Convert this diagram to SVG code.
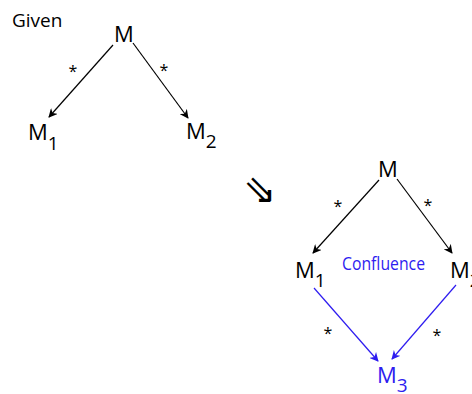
<svg xmlns="http://www.w3.org/2000/svg" width="472" height="394" viewBox="0 0 472 394">
<style>
text{font-family:"Open Sans","Liberation Sans",sans-serif;}
.n{font-size:22px;fill:#000;}
.s{font-size:19px;}
.st{font-size:16px;fill:#000;}
.b{fill:#2e1cf0;}
.e{stroke:#000;stroke-width:1.2;fill:none;marker-end:url(#ak);}
.eb{stroke:#2e1cf0;stroke-width:1.2;fill:none;marker-end:url(#ab);}
</style>
<defs>
<marker id="ak" viewBox="0 0 10 10" refX="9" refY="5" markerWidth="9" markerHeight="9" markerUnits="userSpaceOnUse" orient="auto"><path d="M0,0 L10,5 L0,10 L3,5 Z" fill="#000"/></marker>
<marker id="ab" viewBox="0 0 10 10" refX="9" refY="5" markerWidth="9" markerHeight="9" markerUnits="userSpaceOnUse" orient="auto"><path d="M0,0 L10,5 L0,10 L3,5 Z" fill="#2e1cf0"/></marker>
</defs>
<text x="12" y="27" style="font-size:19px">Given</text>
<g id="connectors">
<line class="e" x1="113" y1="45" x2="49" y2="117"/>
<line class="e" x1="133" y1="43" x2="188" y2="118"/>
<line class="e" x1="379" y1="180" x2="313" y2="253"/>
<line class="e" x1="397" y1="179" x2="452" y2="253"/>
<line class="eb" x1="314" y1="288" x2="378" y2="361"/>
<line class="eb" x1="456" y1="285" x2="392" y2="359"/>
<text class="st" x="73" y="77" text-anchor="middle">*</text>
<text class="st" x="164" y="76" text-anchor="middle">*</text>
<text class="st" x="338" y="212" text-anchor="middle">*</text>
<text class="st" x="428" y="211" text-anchor="middle">*</text>
<text class="st" x="328" y="339" text-anchor="middle">*</text>
<text class="st" x="437" y="341" text-anchor="middle">*</text>
</g>
<g id="M"><text class="n" x="124" y="42" text-anchor="middle">M</text></g>
<g id="M1"><text class="n" x="28" y="140">M<tspan class="s" dy="10">1</tspan></text></g>
<g id="M2"><text class="n" x="186" y="139">M<tspan class="s" dy="9">2</tspan></text></g>
<text x="243" y="203" style="font-family:'DejaVu Sans',sans-serif;font-size:40px">⇘</text>
<g id="Mr"><text class="n" x="388" y="177" text-anchor="middle">M</text></g>
<g id="M1r"><text class="n" x="295" y="278">M<tspan class="s" dy="9">1</tspan></text></g>
<g id="M2r"><text class="n" x="450" y="278">M<tspan class="s" dy="9">2</tspan></text></g>
<text class="b" x="342" y="270" style="font-size:19px" textLength="83" lengthAdjust="spacingAndGlyphs">Confluence</text>
<g id="M3"><text class="n b" x="377" y="383">M<tspan class="s" dy="9">3</tspan></text></g>
</svg>
